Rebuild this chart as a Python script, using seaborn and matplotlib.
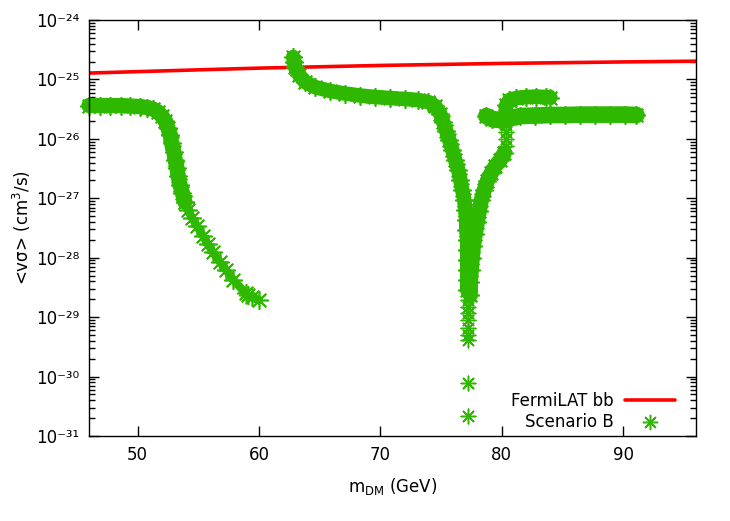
import pandas as pd
import seaborn as sns
import matplotlib.pyplot as plt
from matplotlib.lines import Line2D
from matplotlib.ticker import LogLocator, NullFormatter, FuncFormatter

# FermiLAT bb limit
fermi_x = [46, 55, 60, 70, 80, 90, 96]
fermi_y = [1.28e-25, 1.45e-25, 1.55e-25, 1.72e-25, 1.86e-25, 1.97e-25, 2.03e-25]

# Scenario B: left branch (dense band)
branch_a_x = [46.0, 46.9, 47.7, 48.6, 49.4, 50.2, 50.8, 51.3, 51.7, 52.0, 52.3, 52.5, 52.7, 52.8, 53.0,
              53.1, 53.25, 53.35, 53.5, 53.7, 53.9]
branch_a_y = [3.64e-26, 3.64e-26, 3.64e-26, 3.64e-26, 3.57e-26, 3.50e-26, 3.37e-26, 3.16e-26, 2.83e-26,
              2.42e-26, 2.00e-26, 1.52e-26, 1.16e-26, 8.5e-27, 6.0e-27, 4.4e-27, 3.22e-27, 2.36e-27,
              1.67e-27, 1.22e-27, 8.63e-28]
# left branch tail
tail_a_x = [53.9, 54.15, 54.5, 54.9, 55.4, 55.8, 56.2, 56.8, 57.3, 57.9, 58.9, 59.1, 59.4, 60.0]
tail_a_y = [8.63e-28, 6.33e-28, 4.64e-28, 3.40e-28, 2.31e-28, 1.69e-28, 1.24e-28, 8.43e-29, 6.18e-29,
            4.20e-29, 2.54e-29, 2.35e-29, 2.17e-29, 1.93e-29]

# middle branch down into the resonance dip
branch_b_x = [62.82, 62.90, 62.98, 63.31, 63.81, 64.63, 65.87, 67.10, 68.34, 69.58, 70.81, 72.05, 73.12,
              73.95, 74.52, 74.94, 75.18, 75.43, 75.68, 75.93, 76.17, 76.42, 76.59, 76.75, 76.92, 77.00,
              77.08, 77.08, 77.16, 77.16, 77.16, 77.16, 77.16, 77.16]
branch_b_y = [2.38e-25, 1.96e-25, 1.62e-25, 1.19e-25, 9.0e-26, 7.44e-26, 6.38e-26, 5.79e-26, 5.36e-26,
              5.06e-26, 4.86e-26, 4.68e-26, 4.50e-26, 4.17e-26, 3.57e-26, 2.62e-26, 1.92e-26, 1.35e-26,
              9.55e-27, 6.48e-27, 4.40e-27, 2.98e-27, 2.02e-27, 1.37e-27, 9.33e-28, 6.33e-28, 4.30e-28,
              2.92e-28, 1.98e-28, 1.34e-28, 9.12e-29, 6.18e-29, 4.20e-29, 2.85e-29]
dip_x = [77.24, 77.24, 77.24, 77.24, 77.24, 77.24, 77.24, 77.24, 77.24]
dip_y = [1.93e-29, 1.47e-29, 1.17e-29, 8.9e-30, 6.53e-30, 4.98e-30, 4.10e-30, 7.74e-31, 2.15e-31]

# right side of the dip
branch_c_x = [77.41, 77.41, 77.49, 77.57, 77.66, 77.82, 77.99, 78.15, 78.32, 78.56, 78.81, 79.14, 79.47,
              79.88, 80.21]
branch_c_y = [2.35e-29, 3.88e-29, 6.18e-29, 9.84e-29, 1.57e-28, 2.50e-28, 3.97e-28, 6.09e-28, 9.33e-28,
              1.37e-27, 1.95e-27, 2.66e-27, 3.48e-27, 4.40e-27, 5.77e-27]
link_x = [80.38, 80.38, 80.38, 80.38]
link_y = [7.57e-27, 9.93e-27, 1.30e-26, 1.71e-26]

# plateau and upper hook
plateau_x = [78.73, 79.22, 79.88, 80.71, 81.53, 82.77, 84.00, 85.24, 86.48, 87.71, 88.95, 90.19, 91.10]
plateau_y = [2.42e-26, 2.15e-26, 2.07e-26, 2.24e-26, 2.42e-26, 2.47e-26, 2.52e-26, 2.52e-26, 2.56e-26,
             2.56e-26, 2.56e-26, 2.56e-26, 2.52e-26]
hook_x = [80.30, 80.38, 80.62, 81.20, 82.02, 82.85, 83.68, 84.00]
hook_y = [2.72e-26, 3.71e-26, 4.50e-26, 4.86e-26, 5.06e-26, 5.15e-26, 5.06e-26, 4.96e-26]

# y tick exponents
y_exponents = [-31, -30, -29, -28, -27, -26, -25, -24]

green = '#2eb800'
star = (8, 2, 0)

sns.set_style('ticks')
plt.rcParams['font.family'] = ['DejaVu Sans']
plt.rcParams['font.size'] = 12
for key in ['text.color', 'axes.labelcolor', 'xtick.color', 'ytick.color']:
    plt.rcParams[key] = 'black'

fig = plt.figure(figsize=(7.3, 5.21), dpi=100)
ax = fig.add_axes([0.1219, 0.1631, 0.8315, 0.7985])

sns.lineplot(x=fermi_x, y=fermi_y, color='red', lw=2.6, ax=ax, zorder=1.5)

bands = [(branch_a_x, branch_a_y, 11), (tail_a_x, tail_a_y, 6), (branch_b_x, branch_b_y, 10.5),
         (branch_c_x, branch_c_y, 11), (plateau_x, plateau_y, 12), (hook_x, hook_y, 10.5)]
for bx, by, w in bands:
    sns.lineplot(x=bx, y=by, color=green, lw=w, sort=False, estimator=None, ax=ax,
                 clip_on=False, solid_capstyle='round', zorder=2)
    sns.scatterplot(x=bx, y=by, color=green, marker=star, s=160, linewidth=1.2, ax=ax,
                    clip_on=False, zorder=2)

for bx, by in [(dip_x, dip_y), (link_x, link_y)]:
    sns.scatterplot(x=bx, y=by, color=green, marker=star, s=110, linewidth=1.1, ax=ax,
                    clip_on=False, zorder=2)

sup = str.maketrans('-0123456789', '⁻⁰¹²³⁴⁵⁶⁷⁸⁹')

ax.set_yscale('log')
ax.set_xlim(46, 96)
ax.set_ylim(1e-31, 1e-24)
ax.set_xticks([50, 60, 70, 80, 90])
ax.set_yticks([10.0 ** e for e in y_exponents])
ax.set_yticklabels(['10' + str(e).translate(sup) for e in y_exponents])
ax.yaxis.set_minor_locator(LogLocator(base=10, subs=range(2, 10), numticks=20))
ax.yaxis.set_minor_formatter(NullFormatter())
ax.tick_params(which='both', direction='in', top=True, right=True, colors='black',
               labelsize=12, width=1)
ax.tick_params(which='major', length=7, pad=7)
ax.tick_params(which='minor', length=4)
for s in ax.spines.values():
    s.set_color('black')
    s.set_linewidth(1.0)

ax.set_xlabel('m$_{\\rm DM}$ (GeV)', fontsize=12, labelpad=9)
ax.set_ylabel('<vσ> (cm$^3$/s)', fontsize=12, labelpad=2)

handles = [Line2D([], [], color='red', lw=2.6),
           Line2D([], [], ls='none', marker=star, ms=11, mew=1.1, color=green)]
ax.legend(handles, ['FermiLAT bb', 'Scenario B'], loc='lower right', bbox_to_anchor=(0.977, -0.005),
          frameon=False, markerfirst=False, handlelength=3.0, handletextpad=0.7,
          labelspacing=0.2, borderaxespad=0, fontsize=12)

fig.savefig('out.png', dpi=100)
